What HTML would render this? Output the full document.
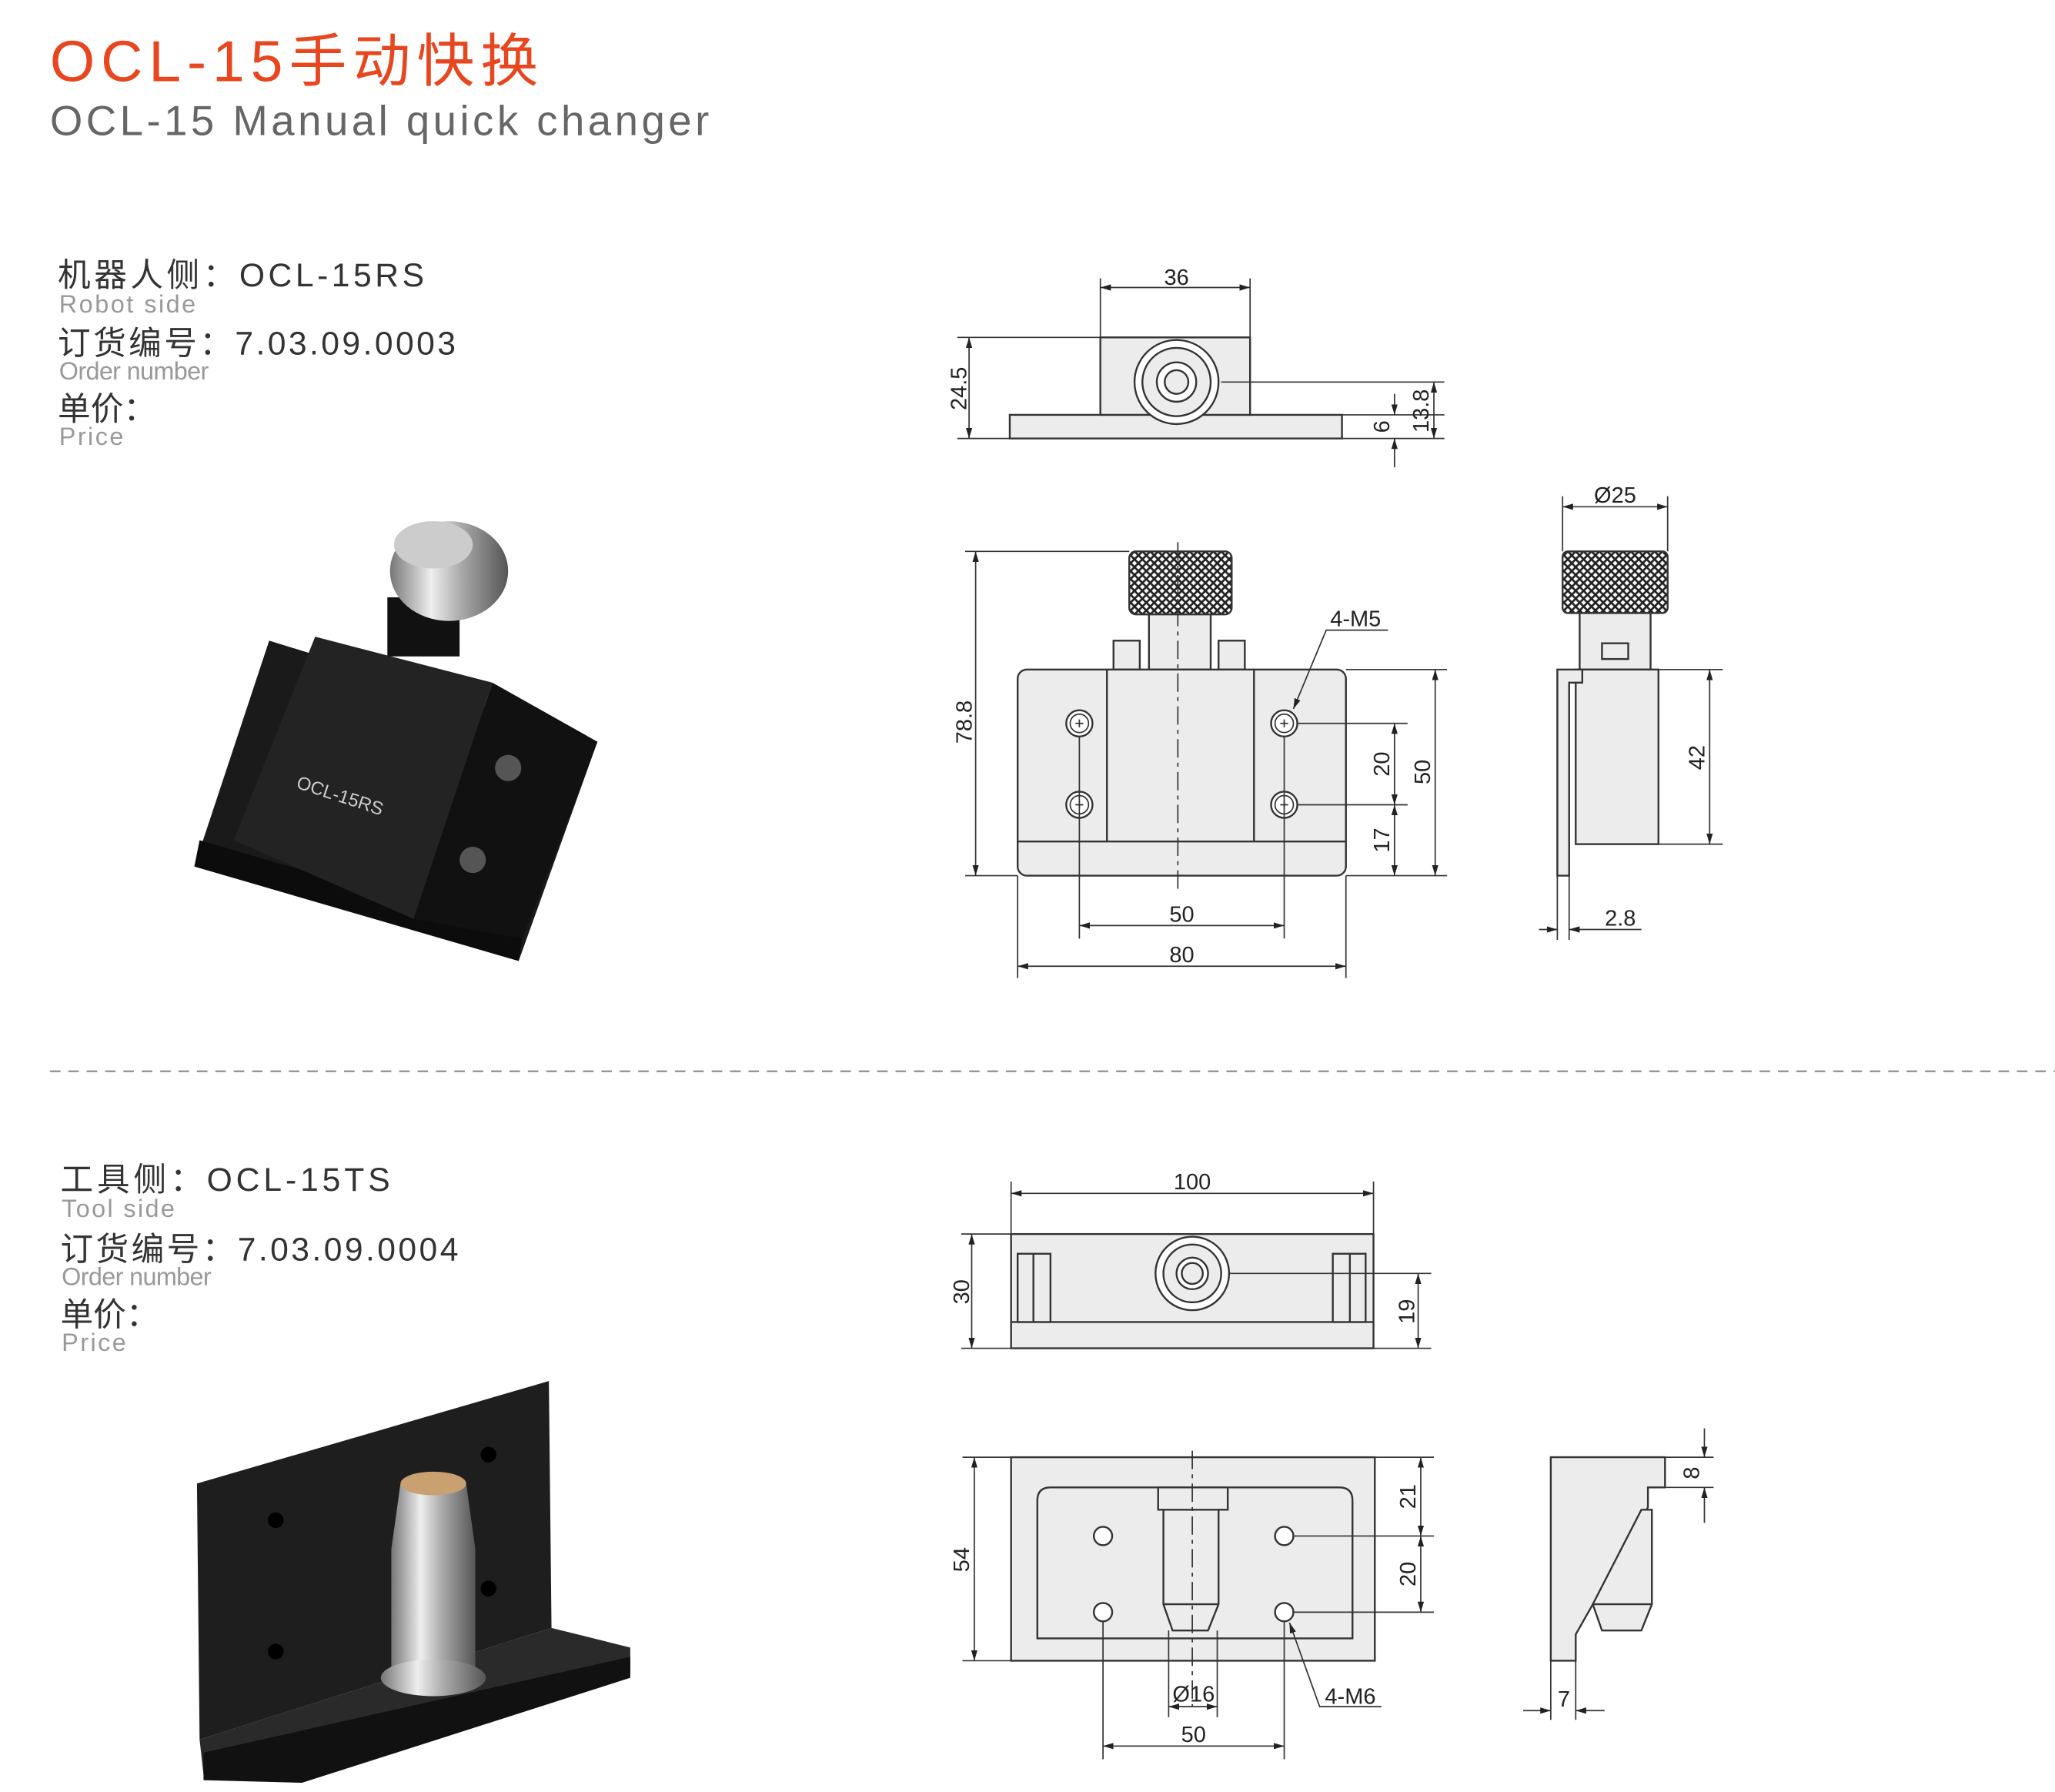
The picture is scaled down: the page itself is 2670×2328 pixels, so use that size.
<!DOCTYPE html>
<html><head><meta charset="utf-8"><style>
html,body{margin:0;padding:0;background:#fff;}
svg{display:block;}
text{font-family:"Liberation Sans","Noto Sans CJK SC",sans-serif;}
</style></head><body>
<svg width="2670" height="2328" viewBox="0 0 1565 1365" preserveAspectRatio="none" xmlns="http://www.w3.org/2000/svg">
<defs>
<pattern id="hatch" width="6" height="6" patternUnits="userSpaceOnUse">
<rect width="6" height="6" fill="#fff"/>
<path d="M0 0L6 6M6 0L0 6" stroke="#222" stroke-width="1.6"/>
</pattern>
<marker id="a" viewBox="0 0 10 10" refX="10" refY="5" markerWidth="8" markerHeight="8" orient="auto-start-reverse"><path d="M0 2L10 5L0 8z" fill="#222"/></marker>
<linearGradient id="silver" x1="0" x2="1"><stop offset="0" stop-color="#777"/><stop offset=".35" stop-color="#eee"/><stop offset=".6" stop-color="#aaa"/><stop offset="1" stop-color="#555"/></linearGradient>
</defs>

<text x="38" y="62" font-size="44" fill="#e8461e" textLength="372" lengthAdjust="spacing">OCL-15手动快换</text>
<text x="38" y="103" font-size="32" fill="#666" textLength="502" lengthAdjust="spacing">OCL-15 Manual quick changer</text>

<g fill="#333">
<text x="44" y="218" font-size="25" textLength="279" lengthAdjust="spacing">机器人侧：OCL-15RS</text>
<text x="45" y="238" font-size="19" fill="#999" textLength="104" lengthAdjust="spacing">Robot side</text>
<text x="44" y="270" font-size="25" textLength="303" lengthAdjust="spacing">订货编号：7.03.09.0003</text>
<text x="45" y="289" font-size="19" fill="#999" textLength="114" lengthAdjust="spacing">Order number</text>
<text x="44" y="320" font-size="25">单价：</text>
<text x="45" y="339" font-size="19" fill="#999" textLength="49" lengthAdjust="spacing">Price</text>

<text x="46" y="907" font-size="25" textLength="251" lengthAdjust="spacing">工具侧：OCL-15TS</text>
<text x="47" y="927" font-size="19" fill="#999" textLength="86" lengthAdjust="spacing">Tool side</text>
<text x="46" y="960" font-size="25" textLength="303" lengthAdjust="spacing">订货编号：7.03.09.0004</text>
<text x="47" y="979" font-size="19" fill="#999" textLength="114" lengthAdjust="spacing">Order number</text>
<text x="46" y="1010" font-size="25">单价：</text>
<text x="47" y="1029" font-size="19" fill="#999" textLength="49" lengthAdjust="spacing">Price</text>
</g>

<line x1="38" y1="816" x2="1565" y2="816" stroke="#888" stroke-width="1.2" stroke-dasharray="8 6"/>

<!-- RS photo -->
<polygon points="205,488 455,565 395,732 148,660" fill="#1a1a1a"/>
<polygon points="148,660 395,732 398,712 152,640" fill="#0c0c0c"/>
<polygon points="240,485 375,520 315,700 178,640" fill="#232323"/>
<polygon points="375,520 455,565 398,715 315,700" fill="#111"/>
<circle cx="387" cy="585" r="10" fill="#555"/><circle cx="360" cy="655" r="10" fill="#555"/>
<rect x="295" y="455" width="55" height="45" fill="#111"/>
<ellipse cx="342" cy="435" rx="45" ry="38" fill="url(#silver)"/>
<ellipse cx="330" cy="415" rx="30" ry="18" fill="#ccc"/>
<text x="225" y="600" font-size="14" fill="#ccc" transform="rotate(18 225 600)">OCL-15RS</text>

<!-- TS photo -->
<polygon points="150,1130 418,1052 420,1240 152,1325" fill="#1e1e1e"/>
<polygon points="152,1325 420,1240 480,1255 480,1275 230,1355 155,1352" fill="#2a2a2a"/>
<polygon points="155,1335 480,1262 480,1278 230,1358 155,1356" fill="#111"/>
<circle cx="210" cy="1158" r="6" fill="#000"/><circle cx="372" cy="1108" r="6" fill="#000"/><circle cx="210" cy="1258" r="6" fill="#000"/><circle cx="372" cy="1210" r="6" fill="#000"/>
<path d="M305 1130 L355 1130 L362 1180 L362 1275 L298 1275 L298 1180 Z" fill="url(#silver)"/>
<ellipse cx="330" cy="1130" rx="25" ry="9" fill="#c9a070"/>
<ellipse cx="330" cy="1278" rx="40" ry="14" fill="url(#silver)"/>

<g stroke="#333" stroke-width="1.4" fill="#ececec">
<!-- RS top view -->
<rect x="769" y="316" width="253" height="18"/>
<rect x="838" y="257" width="114" height="59"/>
<circle cx="896" cy="291" r="32" fill="#fff"/><circle cx="896" cy="291" r="26"/><circle cx="896" cy="291" r="15" fill="#fff"/><circle cx="896" cy="291" r="9"/>

<!-- RS front -->
<rect x="860" y="420" width="78" height="48" rx="5" fill="url(#hatch)"/>
<rect x="875" y="468" width="47" height="42"/>
<rect x="848" y="488" width="20" height="22"/><rect x="928" y="488" width="20" height="22"/>
<rect x="775" y="510" width="250" height="157" rx="7"/>
<line x1="843" y1="510" x2="843" y2="641"/><line x1="955" y1="510" x2="955" y2="641"/>
<line x1="775" y1="641" x2="1025" y2="641"/>
<g fill="#fff"><circle cx="822" cy="551" r="10"/><circle cx="978" cy="551" r="10"/><circle cx="822" cy="613" r="10"/><circle cx="978" cy="613" r="10"/></g>
<g stroke-width="1"><circle cx="822" cy="551" r="7" fill="none"/><circle cx="978" cy="551" r="7" fill="none"/><circle cx="822" cy="613" r="7" fill="none"/><circle cx="978" cy="613" r="7" fill="none"/>
<path d="M819 551h6M822 548v6M975 551h6M978 548v6M819 613h6M822 610v6M975 613h6M978 610v6"/></g>

<!-- RS side -->
<rect x="1190" y="420" width="80" height="47" rx="4" fill="url(#hatch)"/>
<rect x="1203" y="467" width="54" height="43"/>
<rect x="1220" y="490" width="20" height="12"/>
<rect x="1200" y="510" width="63" height="133"/>
<path d="M1186 510 H1205 V520 H1195 V667 H1186 Z"/>

<!-- TS top -->
<rect x="770" y="940" width="276" height="87"/>
<line x1="770" y1="1007" x2="1046" y2="1007"/>
<rect x="775" y="955" width="25" height="52"/><line x1="787" y1="955" x2="787" y2="1007"/>
<rect x="1015" y="955" width="25" height="52"/><line x1="1028" y1="955" x2="1028" y2="1007"/>
<circle cx="908" cy="970" r="28" fill="#fff"/><circle cx="908" cy="970" r="22"/><circle cx="908" cy="970" r="12" fill="#fff"/><circle cx="908" cy="970" r="8"/>

<!-- TS front -->
<rect x="770" y="1110" width="277" height="155"/>
<path d="M790 1248 V1143 Q790 1133 800 1133 H1020 Q1030 1133 1030 1143 V1248 Z"/>
<path d="M882 1133 H935 V1150 H928 V1222 L920 1242 H893 L886 1222 V1150 H882 Z"/>
<line x1="886" y1="1150" x2="928" y2="1150"/><line x1="886" y1="1222" x2="928" y2="1222"/>
<g fill="#fff"><circle cx="840" cy="1170" r="7"/><circle cx="978" cy="1170" r="7"/><circle cx="840" cy="1228" r="7"/><circle cx="978" cy="1228" r="7"/></g>

<!-- TS side -->
<path d="M1181 1110 H1268 V1133 H1255 V1148 L1200 1245 V1265 H1181 Z"/>
<path d="M1213 1222 L1250 1150 H1258 V1222 L1250 1242 H1220 Z"/>
<line x1="1213" y1="1222" x2="1258" y2="1222"/>
</g>

<!-- centerlines -->
<g stroke="#333" stroke-width="1" stroke-dasharray="14 4 3 4" fill="none">
<line x1="897" y1="413" x2="897" y2="680"/>
<line x1="908" y1="1105" x2="908" y2="1300"/>
</g>

<!-- dimensions -->
<g stroke="#333" stroke-width="1" fill="none">
<line x1="838" y1="212" x2="838" y2="257"/><line x1="952" y1="212" x2="952" y2="257"/>
<line x1="838" y1="219" x2="952" y2="219" marker-start="url(#a)" marker-end="url(#a)"/>
<line x1="729" y1="257" x2="838" y2="257"/><line x1="729" y1="334" x2="769" y2="334"/>
<line x1="738" y1="257" x2="738" y2="334" marker-start="url(#a)" marker-end="url(#a)"/>
<line x1="930" y1="291" x2="1100" y2="291"/><line x1="1022" y1="316" x2="1100" y2="316"/><line x1="1022" y1="334" x2="1100" y2="334"/>
<line x1="1062" y1="300" x2="1062" y2="316" marker-end="url(#a)"/><line x1="1062" y1="356" x2="1062" y2="334" marker-end="url(#a)"/>
<line x1="1092" y1="291" x2="1092" y2="334" marker-start="url(#a)" marker-end="url(#a)"/>
<line x1="735" y1="420" x2="860" y2="420"/><line x1="735" y1="667" x2="775" y2="667"/>
<line x1="743" y1="420" x2="743" y2="667" marker-start="url(#a)" marker-end="url(#a)"/>
<line x1="988" y1="551" x2="1072" y2="551"/><line x1="988" y1="613" x2="1072" y2="613"/>
<line x1="1025" y1="510" x2="1102" y2="510"/><line x1="1025" y1="667" x2="1102" y2="667"/>
<line x1="1062" y1="551" x2="1062" y2="613" marker-start="url(#a)" marker-end="url(#a)"/>
<line x1="1062" y1="613" x2="1062" y2="667" marker-start="url(#a)" marker-end="url(#a)"/>
<line x1="1093" y1="510" x2="1093" y2="667" marker-start="url(#a)" marker-end="url(#a)"/>
<line x1="822" y1="561" x2="822" y2="715"/><line x1="978" y1="561" x2="978" y2="715"/>
<line x1="775" y1="667" x2="775" y2="745"/><line x1="1025" y1="667" x2="1025" y2="745"/>
<line x1="822" y1="705" x2="978" y2="705" marker-start="url(#a)" marker-end="url(#a)"/>
<line x1="775" y1="736" x2="1025" y2="736" marker-start="url(#a)" marker-end="url(#a)"/>
<polyline points="1057,480 1010,480 985,540" marker-end="url(#a)"/>
<line x1="1190" y1="378" x2="1190" y2="420"/><line x1="1270" y1="378" x2="1270" y2="420"/>
<line x1="1190" y1="386" x2="1270" y2="386" marker-start="url(#a)" marker-end="url(#a)"/>
<line x1="1263" y1="510" x2="1312" y2="510"/><line x1="1263" y1="643" x2="1312" y2="643"/>
<line x1="1302" y1="510" x2="1302" y2="643" marker-start="url(#a)" marker-end="url(#a)"/>
<line x1="1186" y1="667" x2="1186" y2="716"/><line x1="1195" y1="667" x2="1195" y2="716"/>
<line x1="1172" y1="708" x2="1186" y2="708" marker-end="url(#a)"/><line x1="1250" y1="708" x2="1195" y2="708" marker-end="url(#a)"/>
<line x1="770" y1="900" x2="770" y2="940"/><line x1="1046" y1="900" x2="1046" y2="940"/>
<line x1="770" y1="909" x2="1046" y2="909" marker-start="url(#a)" marker-end="url(#a)"/>
<line x1="732" y1="940" x2="770" y2="940"/><line x1="732" y1="1027" x2="770" y2="1027"/>
<line x1="740" y1="940" x2="740" y2="1027" marker-start="url(#a)" marker-end="url(#a)"/>
<line x1="936" y1="970" x2="1090" y2="970"/><line x1="1046" y1="1027" x2="1090" y2="1027"/>
<line x1="1080" y1="970" x2="1080" y2="1027" marker-start="url(#a)" marker-end="url(#a)"/>
<line x1="733" y1="1110" x2="770" y2="1110"/><line x1="733" y1="1265" x2="770" y2="1265"/>
<line x1="742" y1="1110" x2="742" y2="1265" marker-start="url(#a)" marker-end="url(#a)"/>
<line x1="1047" y1="1110" x2="1092" y2="1110"/><line x1="985" y1="1170" x2="1092" y2="1170"/><line x1="985" y1="1228" x2="1092" y2="1228"/>
<line x1="1082" y1="1110" x2="1082" y2="1170" marker-start="url(#a)" marker-end="url(#a)"/>
<line x1="1082" y1="1170" x2="1082" y2="1228" marker-start="url(#a)" marker-end="url(#a)"/>
<line x1="890" y1="1242" x2="890" y2="1308"/><line x1="927" y1="1242" x2="927" y2="1308"/>
<line x1="890" y1="1300" x2="927" y2="1300" marker-start="url(#a)" marker-end="url(#a)"/>
<line x1="840" y1="1235" x2="840" y2="1340"/><line x1="978" y1="1235" x2="978" y2="1340"/>
<line x1="840" y1="1330" x2="978" y2="1330" marker-start="url(#a)" marker-end="url(#a)"/>
<polyline points="1052,1300 1005,1300 982,1236" marker-end="url(#a)"/>
<line x1="1268" y1="1110" x2="1305" y2="1110"/><line x1="1268" y1="1133" x2="1305" y2="1133"/>
<line x1="1298" y1="1088" x2="1298" y2="1110" marker-end="url(#a)"/><line x1="1298" y1="1160" x2="1298" y2="1133" marker-end="url(#a)"/>
<line x1="1181" y1="1265" x2="1181" y2="1310"/><line x1="1200" y1="1265" x2="1200" y2="1310"/>
<line x1="1160" y1="1303" x2="1181" y2="1303" marker-end="url(#a)"/><line x1="1222" y1="1303" x2="1200" y2="1303" marker-end="url(#a)"/>
</g>

<g font-size="17" fill="#222">
<text x="896" y="217" text-anchor="middle">36</text>
<text x="736" y="296" text-anchor="middle" transform="rotate(-90 736 296)">24.5</text>
<text x="1058" y="325" text-anchor="middle" transform="rotate(-90 1058 325)">6</text>
<text x="1088" y="313" text-anchor="middle" transform="rotate(-90 1088 313)">13.8</text>
<text x="740" y="550" text-anchor="middle" transform="rotate(-90 740 550)">78.8</text>
<text x="1058" y="582" text-anchor="middle" transform="rotate(-90 1058 582)">20</text>
<text x="1058" y="640" text-anchor="middle" transform="rotate(-90 1058 640)">17</text>
<text x="1089" y="588" text-anchor="middle" transform="rotate(-90 1089 588)">50</text>
<text x="900" y="702" text-anchor="middle">50</text>
<text x="900" y="733" text-anchor="middle">80</text>
<text x="1013" y="477">4-M5</text>
<text x="1230" y="383" text-anchor="middle">Ø25</text>
<text x="1298" y="577" text-anchor="middle" transform="rotate(-90 1298 577)">42</text>
<text x="1234" y="705" text-anchor="middle">2.8</text>
<text x="908" y="906" text-anchor="middle">100</text>
<text x="738" y="984" text-anchor="middle" transform="rotate(-90 738 984)">30</text>
<text x="1077" y="999" text-anchor="middle" transform="rotate(-90 1077 999)">19</text>
<text x="738" y="1188" text-anchor="middle" transform="rotate(-90 738 1188)">54</text>
<text x="1078" y="1140" text-anchor="middle" transform="rotate(-90 1078 1140)">21</text>
<text x="1078" y="1199" text-anchor="middle" transform="rotate(-90 1078 1199)">20</text>
<text x="909" y="1296" text-anchor="middle">Ø16</text>
<text x="909" y="1327" text-anchor="middle">50</text>
<text x="1009" y="1298">4-M6</text>
<text x="1294" y="1122" text-anchor="middle" transform="rotate(-90 1294 1122)">8</text>
<text x="1191" y="1300" text-anchor="middle">7</text>
</g>
</svg>
</body></html>
